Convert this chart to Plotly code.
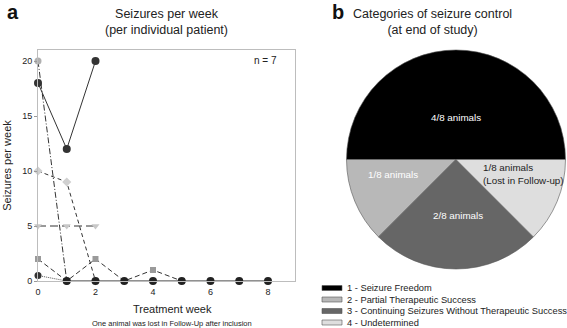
import plotly.graph_objects as go

W, H = 567, 328

# ---- Panel a data ----
s1_weeks = [0, 1, 2]
s1_vals = [18, 12, 20]
s2_weeks = [0, 1]
s2_vals = [20, 0]
s3_weeks = [0, 1, 2]
s3_vals = [10, 9, 0]
s4_weeks = [0, 1, 2]
s4_vals = [5, 5, 5]
s5_weeks = [0, 1, 2, 3, 4, 5]
s5_vals = [2, 0, 2, 0, 1, 0]
s6_weeks = [0, 1]
s6_vals = [0.5, 0]
s7_weeks = [1, 2, 3, 4, 5, 6, 7, 8]
s7_vals = [0, 0, 0, 0, 0, 0, 0, 0]

x_ticks = [0, 2, 4, 6, 8]
y_ticks = [0, 5, 10, 15, 20]

# ---- Panel b data ----
pie_labels = ["1 - Seizure Freedom", "2 - Partial Therapeutic Success",
              "3 - Continuing Seizures Without Therapeutic Success", "4 - Undetermined"]
pie_values = [4, 1, 2, 1]
pie_text = ["4/8 animals", "1/8 animals", "2/8 animals", "1/8 animals<br>(Lost in Follow-up)"]
pie_colors = ["#000000", "#b8b8b8", "#666666", "#dedede"]
pie_textcolors = ["#ffffff", "#ffffff", "#ffffff", "#222222"]

FONT = "Liberation Sans, Arial, sans-serif"

fig = go.Figure()

def line_trace(x, y, dash, lcolor, msym, mcolor, msize=7):
    return go.Scatter(x=x, y=y, mode="lines+markers",
                      line=dict(color=lcolor, width=1, dash=dash),
                      marker=dict(symbol=msym, color=mcolor, size=msize,
                                  line=dict(width=0)),
                      cliponaxis=False, showlegend=False,
                      xaxis="x", yaxis="y")

fig.add_trace(line_trace(s4_weeks, s4_vals, "8px,4px", "#333333", "triangle-down", "#c8c8c8", 7))
fig.add_trace(line_trace(s3_weeks, s3_vals, "4px,3px", "#333333", "diamond", "#d0d0d0", 7))
fig.add_trace(line_trace(s2_weeks, s2_vals, "6px,2px,1px,2px", "#333333", "circle", "#b0b0b0", 7))
fig.add_trace(line_trace(s5_weeks, s5_vals, "5px,3px", "#333333", "square", "#9a9a9a", 6))
fig.add_trace(line_trace(s6_weeks, s6_vals, "1px,1px", "#555555", "circle", "#333333", 7))
fig.add_trace(line_trace(s7_weeks, s7_vals, "solid", "#222222", "circle", "#222222", 8))
fig.add_trace(line_trace(s1_weeks, s1_vals, "solid", "#333333", "circle", "#333333", 8))

# pie geometry (pixels)
PCX, PCY, PR = 456, 159.5, 109.5
fig.add_trace(go.Pie(
    labels=pie_labels, values=pie_values,
    textinfo="none",
    marker=dict(colors=pie_colors, line=dict(color="#555555", width=0.6)),
    sort=False, direction="counterclockwise", rotation=270,
    domain=dict(x=[(PCX - PR) / W, (PCX + PR) / W], y=[(H - PCY - PR) / H, (H - PCY + PR) / H]),
    hoverinfo="label+value", showlegend=False,
))

fig.update_layout(
    width=W, height=H,
    margin=dict(l=0, r=0, t=0, b=0),
    paper_bgcolor="white", plot_bgcolor="white",
    font=dict(family=FONT, color="#222222", size=10),
    showlegend=False,
    xaxis=dict(domain=[38 / W, 295 / W], range=[0, 8.94],
               tickvals=x_ticks, ticks="", showgrid=False, zeroline=False,
               showline=True, linecolor="#bdbdbd", linewidth=1, mirror=True,
               tickfont=dict(size=9), ticklabelstandoff=2, automargin=False),
    yaxis=dict(domain=[(H - 281) / H, (H - 50) / H], range=[0, 21],
               tickvals=y_ticks, ticks="outside", ticklen=3, tickcolor="#999999",
               showgrid=False, zeroline=False, automargin=False,
               showline=True, linecolor="#bdbdbd", linewidth=1, mirror=True,
               tickfont=dict(size=9),
               title=dict(text="Seizures per week", font=dict(size=11), standoff=8)),
)

annots = [
    dict(text="<b>a</b>", x=5 / W, y=(H - 12) / H, xanchor="left", yanchor="middle",
         font=dict(size=20, color="#111111")),
    dict(text="<b>b</b>", x=330 / W, y=(H - 12) / H, xanchor="left", yanchor="middle",
         font=dict(size=20, color="#111111")),
    dict(text="Seizures per week<br>(per individual patient)", x=166 / W, y=(H - 22) / H,
         xanchor="center", yanchor="middle", font=dict(size=12.5, color="#222222")),
    dict(text="Categories of seizure control<br>(at end of study)", x=432 / W, y=(H - 22) / H,
         xanchor="center", yanchor="middle", font=dict(size=12.5, color="#222222")),
    dict(text="n = 7", x=279 / W, y=(H - 60) / H, xanchor="right", yanchor="middle",
         font=dict(size=10, color="#222222")),
    dict(text="Treatment week", x=172 / W, y=(H - 309) / H,
         xanchor="center", yanchor="middle", font=dict(size=11, color="#222222")),
    dict(text="One animal was lost in Follow-Up after inclusion", x=172 / W, y=(H - 323) / H,
         xanchor="center", yanchor="middle", font=dict(size=7.5, color="#222222")),
]

# slice labels placed at offsets from the pie centre
label_offsets = [(0, -42, "center"), (-63, 14.5, "center"), (2, 56.5, "center"), (25, 14.5, "left")]
for txt, col, (dx, dy, anc) in zip(pie_text, pie_textcolors, label_offsets):
    annots.append(dict(text=txt, x=(PCX + dx) / W, y=(H - PCY - dy) / H,
                       xanchor=anc, yanchor="middle", align=anc,
                       font=dict(size=9.8, color=col)))

# custom compact legend
for i, (lab, col) in enumerate(zip(pie_labels, pie_colors)):
    yc = 288 + i * 11.5
    fig.add_shape(type="rect", xref="paper", yref="paper",
                  x0=322 / W, x1=342 / W, y0=(H - yc - 2.5) / H, y1=(H - yc + 2.5) / H,
                  fillcolor=col, line=dict(color="#555555", width=0.6))
    annots.append(dict(text=lab, x=345 / W, y=(H - yc) / H, xanchor="left", yanchor="middle",
                       font=dict(size=9.3, color="#222222")))

for a in annots:
    a.update(xref="paper", yref="paper", showarrow=False)
    fig.add_annotation(**a)

fig.write_html("out.html", config={"displayModeBar": False},
               post_script="document.body.style.margin='0px';document.body.style.padding='0px';")
